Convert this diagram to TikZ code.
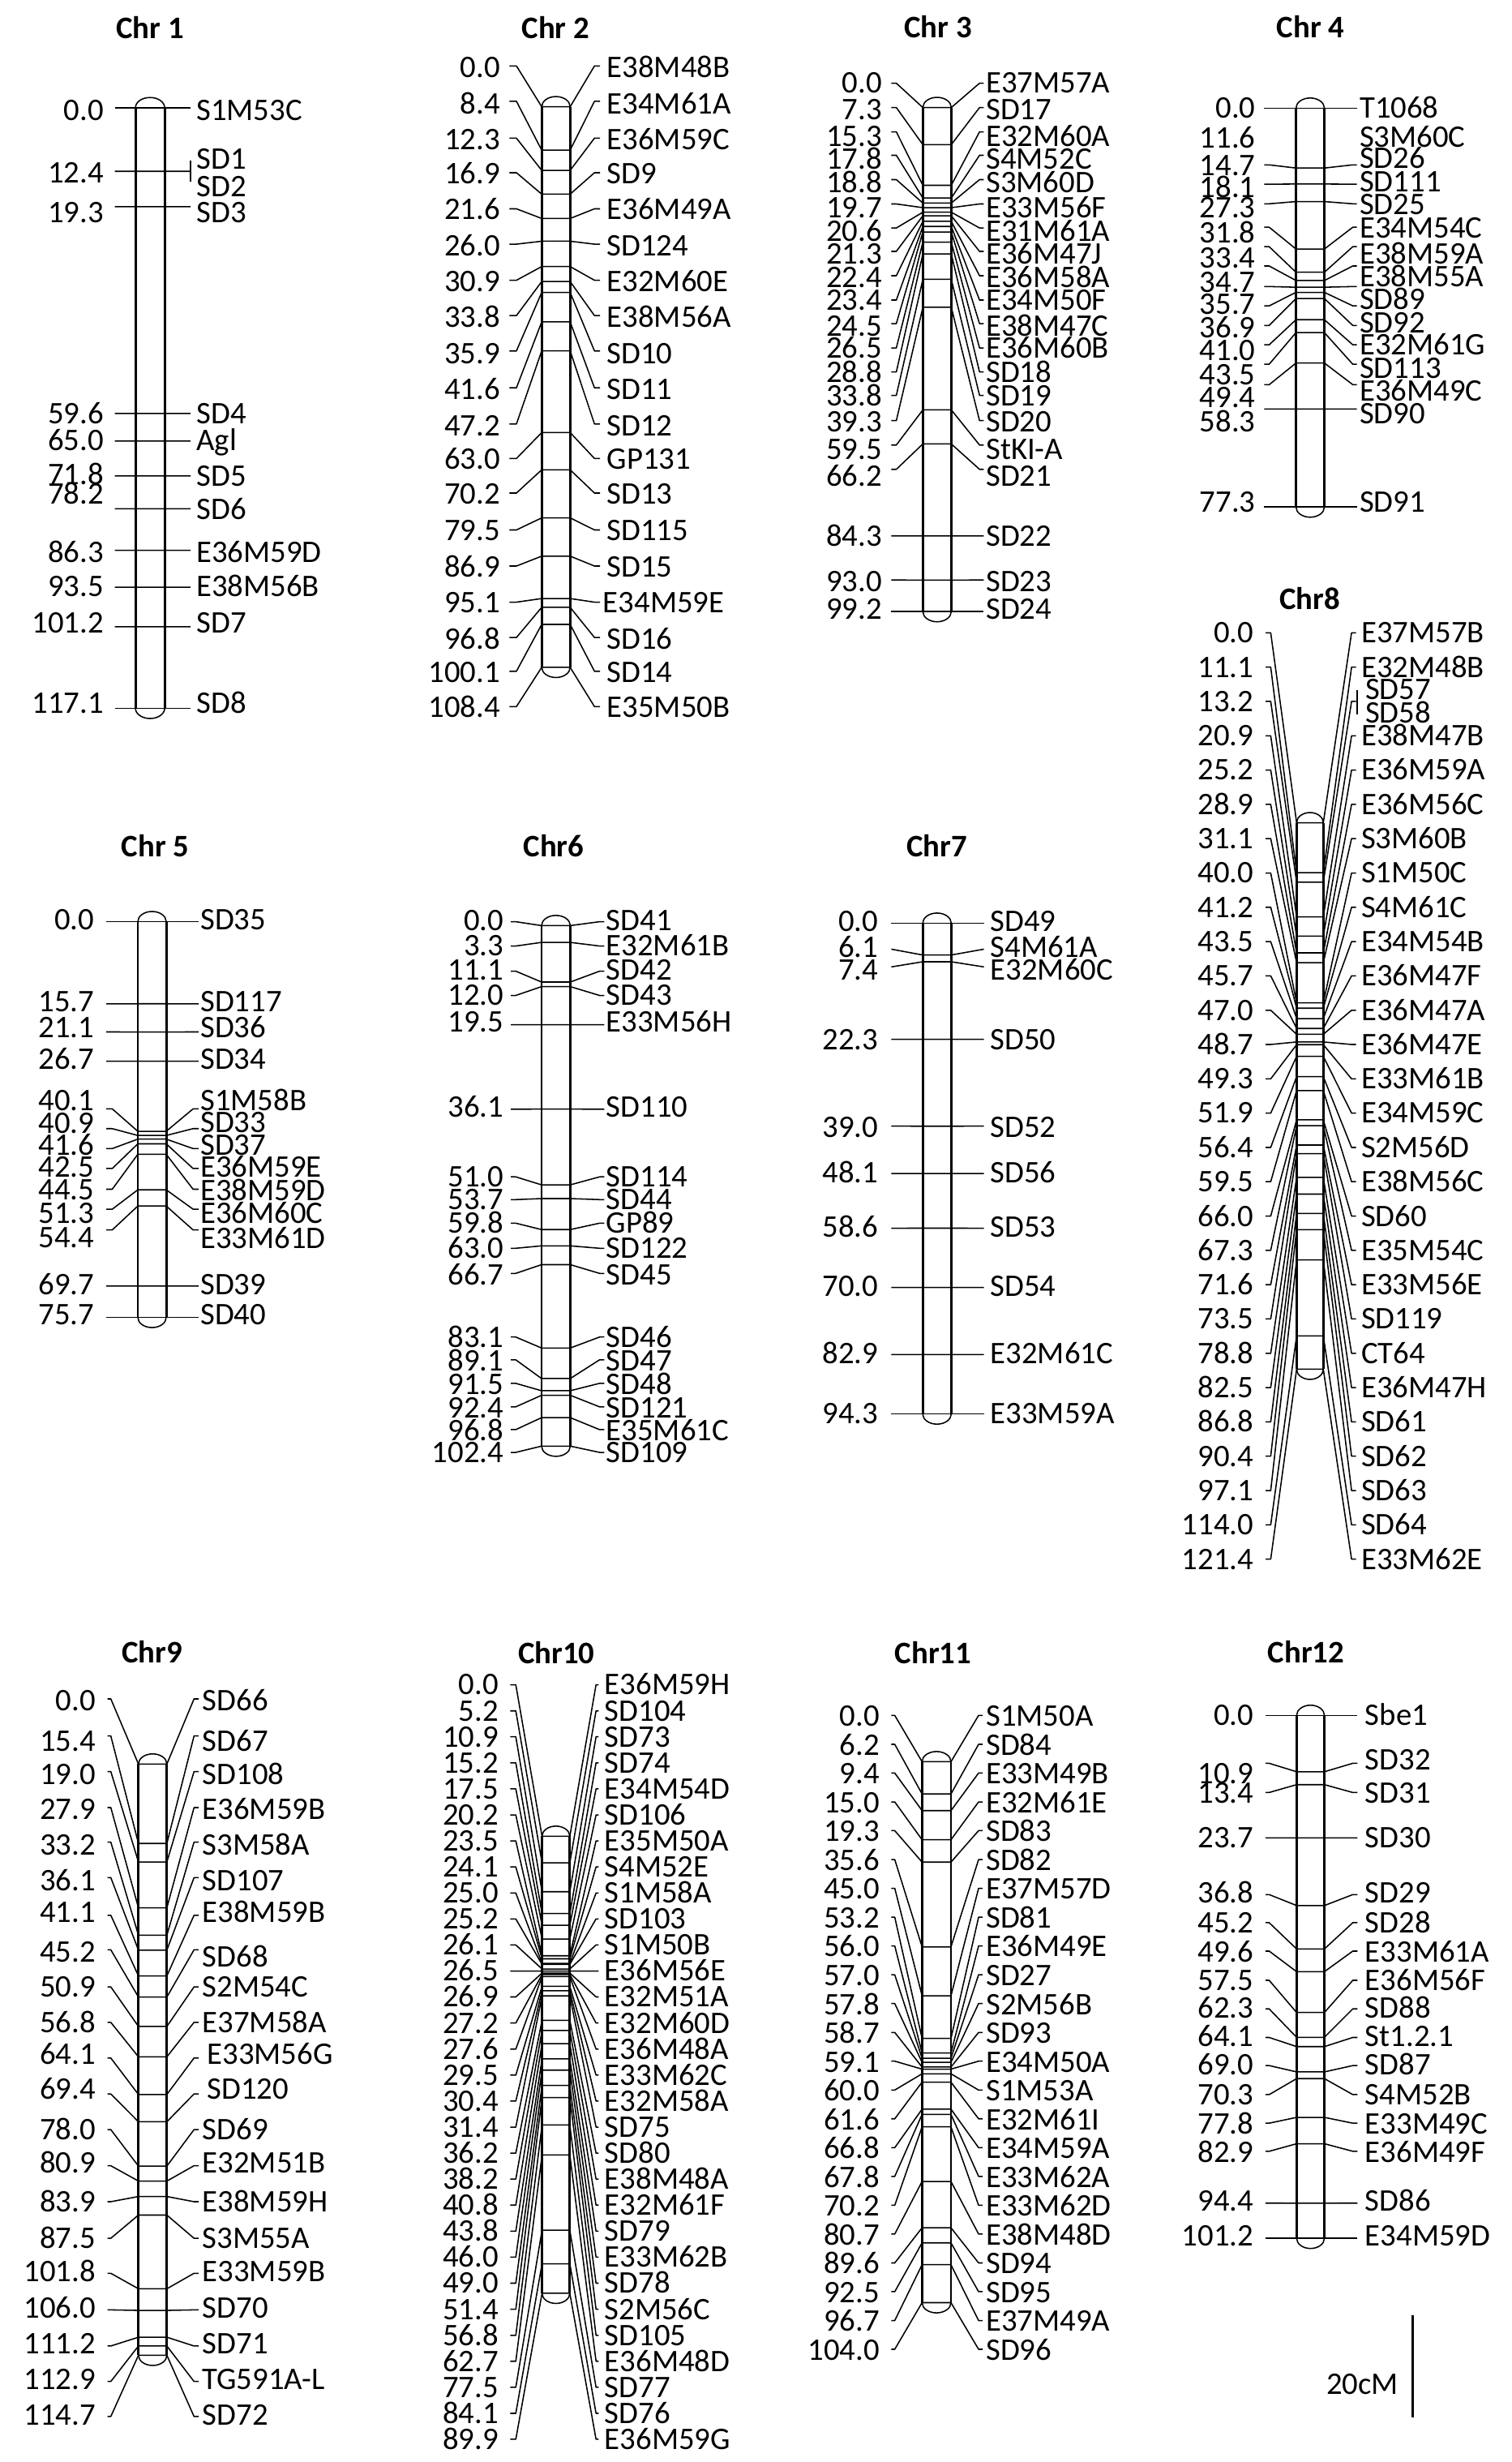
\documentclass[tikz,border=0pt]{standalone}
\usepackage{fontspec}
\setmainfont{Carlito}
\newcommand\lblfont{\fontsize{20}{24}\selectfont}
\tikzset{
 conn/.style={line width=0.8pt, line join=round},
 barside/.style={line width=1.5pt},
 capline/.style={line width=0.8pt},
 numlbl/.style={anchor=base east, inner sep=0pt, font=\lblfont},
 namelbl/.style={anchor=base west, inner sep=0pt, font=\lblfont},
 titlelbl/.style={anchor=base, inner sep=0pt, font=\lblfont\bfseries},
 scalebar/.style={line width=1.6pt},
}
\newcommand\setbar[6]{\def\cid{#1}\def\bL{#2}\def\bR{#3}\def\yA{#4}\def\yB{#5}\def\cmax{#6}}
\newcommand\setlbl[6]{\def\xLs{#1}\def\xLd{#2}\def\xRd{#3}\def\xRs{#4}\def\xN{#5}\def\xM{#6}}
\newcommand\chrprep{%
 \pgfmathsetmacro\bC{(\bL+\bR)/2}%
 \pgfmathsetmacro\bK{0.552*(\bR-\bL)/2}%
 \pgfmathsetmacro\bCl{\bC-\bK}\pgfmathsetmacro\bCr{\bC+\bK}%
 \pgfmathsetmacro\yAt{\yA-6.5}\pgfmathsetmacro\yAc{\yA-3.59}%
 \pgfmathsetmacro\yBt{\yB+6.5}\pgfmathsetmacro\yBc{\yB+3.59}%
 \coordinate (c\cid-tl) at (\bL,\yA);
 \coordinate (c\cid-tr) at (\bR,\yA);
 \coordinate (c\cid-bl) at (\bL,\yB);
 \coordinate (c\cid-br) at (\bR,\yB);
 \fill[white] (c\cid-tl) .. controls (\bL,\yAc) and (\bCl,\yAt) .. (\bC,\yAt) .. controls (\bCr,\yAt) and (\bR,\yAc) .. (c\cid-tr) -- (c\cid-br) .. controls (\bR,\yBc) and (\bCr,\yBt) .. (\bC,\yBt) .. controls (\bCl,\yBt) and (\bL,\yBc) .. (c\cid-bl) -- cycle;
}
\newcommand\chroutline{%
 \draw[capline] (c\cid-tl) .. controls (\bL,\yAc) and (\bCl,\yAt) .. (\bC,\yAt) .. controls (\bCr,\yAt) and (\bR,\yAc) .. (c\cid-tr);
 \draw[capline] (c\cid-br) .. controls (\bR,\yBc) and (\bCr,\yBt) .. (\bC,\yBt) .. controls (\bCl,\yBt) and (\bL,\yBc) .. (c\cid-bl);
 \draw[barside] (c\cid-tl) -- (c\cid-bl);
 \draw[barside] (c\cid-tr) -- (c\cid-br);
}
\newcommand\chrmarkers[1]{%
 \foreach \pc/\pL/\pR [count=\k] in {#1}{%
  \pgfmathsetmacro\yb{\yA+(\pc)/(\cmax)*((\yB)-(\yA))}%
  \coordinate (c\cid-m\k-a) at (\xLs,\pL);
  \coordinate (c\cid-m\k-b) at (\xLd,\pL);
  \coordinate (c\cid-m\k-c) at (\bL,\yb);
  \coordinate (c\cid-m\k-d) at (\bR,\yb);
  \coordinate (c\cid-m\k-e) at (\xRd,\pR);
  \coordinate (c\cid-m\k-f) at (\xRs,\pR);
  \draw[conn] (c\cid-m\k-a) -- (c\cid-m\k-b) -- (c\cid-m\k-c) -- (c\cid-m\k-d) -- (c\cid-m\k-e) -- (c\cid-m\k-f);
 }%
}
\newcommand\chrleft[1]{\foreach \ty/\lab [count=\k] in {#1}{\node[numlbl] (c\cid-n\k) at (\xN,\ty+6.4) {\lab};}}
\newcommand\chrright[1]{\foreach \ty/\dx/\lab [count=\k] in {#1}{\node[namelbl] (c\cid-s\k) at (\xM+\dx,\ty+6.4) {\lab};}}
\begin{document}
\begin{tikzpicture}[x=1pt,y=-1pt]
\useasboundingbox (0,0) rectangle (963,1568);
\fill[white] (0,0) rectangle (963,1568);

% ---------- Chr 1
\begin{scope}
\setbar{1}{86.3}{104.9}{68.6}{451.1}{117.1}
\setlbl{73.2}{73.2}{121.4}{121.4}{66.3}{125}
\chrprep
\chrmarkers{0/68.6/68.6,12.4/109.1/109.1,19.3/131.6/131.6,59.6/263.3/263.3,65.0/280.9/280.9,71.8/303.1/303.1,78.2/324.0/324.0,86.3/350.5/350.5,93.5/374.0/374.0,101.2/399.2/399.2,117.1/451.1/451.1}
\chroutline
\chrleft{70.5/0.0,110/12.4,135.5/19.3,263.5/59.6,280.5/65.0,302/71.8,314.5/78.2,352/86.3,373.5/93.5,396.5/101.2,448/117.1}
\chrright{70.5/0/S1M53C,101.3/0/SD1,118.6/0/SD2,135.5/0/SD3,263.5/0/SD4,280.5/0/Agl,303/0/SD5,324.3/0/SD6,352/0/E36M59D,373.5/0/E38M56B,396.5/0/SD7,448/0/SD8}
\coordinate (c1-tka) at (121.4,102.5);
\coordinate (c1-tkb) at (121.4,115.5);
\draw[conn] (c1-tka) -- (c1-tkb);
\node[titlelbl] (c1-title) at (95.6,24.3) {Chr 1};
\end{scope}

% ---------- Chr 2
\begin{scope}
\setbar{2}{345.1}{363.2}{68}{425}{108.4}
\setlbl{324.5}{329}{378.7}{382.3}{318.8}{386.5}
\chrprep
\chrmarkers{0/42/42,8.4/64.5/64.5,12.3/88/88,16.9/110/110,21.6/133/133,26.0/155.5/155.5,30.9/178.5/178.5,33.8/201/201,35.9/223.5/223.5,41.6/247/247,47.2/270/270,63.0/292/292,70.2/314/314,79.5/337.5/337.5,86.9/360.5/360.5,95.1/383.5/383.5,96.8/406/406,100.1/427.5/427.5,108.4/450/450}
\chroutline
\chrleft{43/0.0,66/8.4,89/12.3,110.5/16.9,133.5/21.6,156.5/26.0,179.5/30.9,202/33.8,225/35.9,248/41.6,271/47.2,292.5/63.0,314.5/70.2,338/79.5,361/86.9,384/95.1,407/96.8,428/100.1,450.5/108.4}
\chrright{43/0/E38M48B,66/0/E34M61A,89/0/E36M59C,110.5/0/SD9,133.5/0/E36M49A,156.5/0/SD124,179.5/0/E32M60E,202/0/E38M56A,225/0/SD10,248/0/SD11,271/0/SD12,292.5/0/GP131,314.5/0/SD13,338/0/SD115,361/0/SD15,384/-2.5/E34M59E,407/0/SD16,428/0/SD14,450.5/0/E35M50B}
\node[titlelbl] (c2-title) at (353.9,24.3) {Chr 2};
\end{scope}

% ---------- Chr 3
\begin{scope}
\setbar{3}{587.9}{606}{68.5}{389.5}{99.2}
\setlbl{567.8}{571}{624}{626.7}{562}{628}
\chrprep
\chrmarkers{0/53/53,7.3/68.5/68.5,15.3/84/84,17.8/98.9/98.9,18.8/114.4/114.4,19.7/129.9/129.9,20.6/145.2/145.2,21.3/160.1/160.1,22.4/175.6/175.6,23.4/191.1/191.1,24.5/206.1/206.1,26.5/221.6/221.6,28.8/236.9/236.9,33.8/251.8/251.8,39.3/267.9/267.9,59.5/283.4/283.4,66.2/298.9/298.9,84.3/341.3/341.3,93.0/369.4/369.4,99.2/389.5/389.5}
\chroutline
\chrleft{52.5/0.0,70/7.3,87/15.3,101.5/17.8,116.5/18.8,132.5/19.7,147/20.6,161.5/21.3,176.5/22.4,191/23.4,207.5/24.5,221.5/26.5,237/28.8,252/33.8,268.5/39.3,286/59.5,303/66.2,341.5/84.3,370.5/93.0,388/99.2}
\chrright{52.5/0/E37M57A,70/0/SD17,87/0/E32M60A,101.5/0/S4M52C,116.5/0/S3M60D,132.5/0/E33M56F,147/0/E31M61A,161.5/0/E36M47J,176.5/0/E36M58A,191/0/E34M50F,207.5/0/E38M47C,221.5/0/E36M60B,237/0/SD18,252/0/SD19,268.5/0/SD20,286/0/StKI-A,303/0/SD21,341.5/0/SD22,370.5/0/SD23,388/0/SD24}
\node[titlelbl] (c3-title) at (597.6,24.1) {Chr 3};
\end{scope}

% ---------- Chr 4
\begin{scope}
\setbar{4}{825.6}{843.7}{68.9}{322.9}{77.3}
\setlbl{805.4}{808.5}{861.8}{864.3}{800}{866}
\chrprep
\chrmarkers{0/68.9/68.9,11.6/105/105,14.7/117.3/117.3,18.1/129.8/129.8,27.3/144.7/144.7,31.8/157.1/157.1,33.4/169.4/169.4,34.7/182.5/182.5,35.7/194.8/194.8,36.9/207.3/207.3,41.0/219.6/219.6,43.5/232/232,49.4/245/245,58.3/260.5/260.5,77.3/322.9/322.9}
\chroutline
\chrleft{68.9/0.0,87.8/11.6,105.5/14.7,119.5/18.1,132.4/27.3,148.5/31.8,164.5/33.4,180/34.7,193.5/35.7,208.5/36.9,223/41.0,238.5/43.5,253/49.4,268.5/58.3,320/77.3}
\chrright{68.9/0/T1068,87.5/0/S3M60C,101/0/SD26,116/0/SD111,130/0/SD25,145.3/0/E34M54C,161.5/0/E38M59A,176/0/E38M55A,190.5/0/SD89,205.5/0/SD92,219.3/0/E32M61G,234.3/0/SD113,249/0/E36M49C,263.5/0/SD90,319.5/0/SD91}
\node[titlelbl] (c4-title) at (834.9,24.2) {Chr 4};
\end{scope}

% ---------- Chr 5
\begin{scope}
\setbar{5}{87.8}{105.9}{587}{839}{75.7}
\setlbl{67.7}{71.5}{123}{126.6}{60.3}{127.5}
\chrprep
\chrmarkers{0/587/587,15.7/639.3/639.3,21.1/657.2/657.2,26.7/675.9/675.9,40.1/706.2/706.2,40.9/718.8/718.8,41.6/731.5/731.5,42.5/744.2/744.2,44.5/757.4/757.4,51.3/770.1/770.1,54.4/783.3/783.3,69.7/819/819,75.7/839/839}
\chroutline
\chrleft{585.5/0.0,638/15.7,654.5/21.1,674.5/26.7,701/40.1,715.5/40.9,729.5/41.6,743.5/42.5,757.5/44.5,772.5/51.3,788/54.4,818/69.7,837/75.7}
\chrright{585.5/0/SD35,638/0/SD117,654.5/0/SD36,674.5/0/SD34,701/0/S1M58B,715/0/SD33,729.5/0/SD37,743.5/0/E36M59E,758/0/E38M59D,772.5/0/E36M60C,788.5/0/E33M61D,818/0/SD39,837/0/SD40}
\node[titlelbl] (c5-title) at (99,545.5) {Chr 5};
\end{scope}

% ---------- Chr 6
\begin{scope}
\setbar{6}{345}{363.3}{589.5}{921}{102.4}
\setlbl{325.5}{328.5}{382}{385}{321}{386}
\chrprep
\chrmarkers{0/587/587,3.3/602.5/602.5,11.1/618.5/618.5,12.0/634/634,19.5/652.6/652.6,36.1/706.4/706.4,51.0/749.5/749.5,53.7/764/764,59.8/779/779,63.0/795/795,66.7/811/811,83.1/851.5/851.5,89.1/866/866,91.5/881/881,92.4/896/896,96.8/910.5/910.5,102.4/925/925}
\chroutline
\chrleft{586/0.0,602/3.3,618/11.1,634/12.0,651/19.5,705/36.1,749.5/51.0,764/53.7,779/59.8,795/63.0,812/66.7,851.5/83.1,866.5/89.1,881.5/91.5,896.5/92.4,911/96.8,925/102.4}
\chrright{586/0/SD41,602/0/E32M61B,618/0/SD42,634/0/SD43,651/0/E33M56H,705/0/SD110,749.5/0/SD114,764/0/SD44,779/0/GP89,795/0/SD122,812/0/SD45,851.5/0/SD46,866.5/0/SD47,881.5/0/SD48,896.5/0/SD121,911/0/E35M61C,925/0/SD109}
\node[titlelbl] (c6-title) at (352.7,545.4) {Chr6};
\end{scope}

% ---------- Chr 7
\begin{scope}
\setbar{7}{587.8}{606}{588}{900.5}{94.3}
\setlbl{567.8}{567.8}{626.8}{626.8}{559.6}{630.8}
\chrprep
\chrmarkers{0/588/588,6.1/604.5/604.5,7.4/615.8/615.8,22.3/661.9/661.9,39.0/717.2/717.2,48.1/747.4/747.4,58.6/782.2/782.2,70.0/820/820,82.9/862.7/862.7,94.3/900.5/900.5}
\chroutline
\chrleft{586.5/0.0,603.3/6.1,618/7.4,662/22.3,718/39.0,747/48.1,781.7/58.6,819/70.0,862/82.9,900/94.3}
\chrright{586.5/0/SD49,603.3/0/S4M61A,618/0/E32M60C,662/0/SD50,718/0/SD52,747/0/SD56,781.7/0/SD53,819/0/SD54,862/0/E32M61C,900/0/E33M59A}
\node[titlelbl] (c7-title) at (596.7,545.5) {Chr7};
\end{scope}

% ---------- Chr 8
\begin{scope}
\setbar{8}{826}{843}{524}{872}{121.4}
\setlbl{806.3}{809.5}{861}{863.8}{798.7}{867}
\chrprep
\chrmarkers{0/403.0/403.0,11.1/424.9/424.9,13.2/446.7/446.7,20.9/468.6/468.6,25.2/490.4/490.4,28.9/512.3/512.3,31.1/534.1/534.1,40.0/556.0/556.0,41.2/577.8/577.8,43.5/599.7/599.7,45.7/621.5/621.5,47.0/643.4/643.4,48.7/665.2/665.2,49.3/687.1/687.1,51.9/708.9/708.9,56.4/730.8/730.8,59.5/752.6/752.6,66.0/774.5/774.5,67.3/796.3/796.3,71.6/818.2/818.2,73.5/840.0/840.0,78.8/861.9/861.9,82.5/883.7/883.7,86.8/905.6/905.6,90.4/927.4/927.4,97.1/949.3/949.3,114.0/971.1/971.1,121.4/993.0/993.0}
\chroutline
\chrleft{403.0/0.0,424.9/11.1,446.7/13.2,468.6/20.9,490.4/25.2,512.3/28.9,534.1/31.1,556.0/40.0,577.8/41.2,599.7/43.5,621.5/45.7,643.4/47.0,665.2/48.7,687.1/49.3,708.9/51.9,730.8/56.4,752.6/59.5,774.5/66.0,796.3/67.3,818.2/71.6,840.0/73.5,861.9/78.8,883.7/82.5,905.6/86.8,927.4/90.4,949.3/97.1,971.1/114.0,993.0/121.4}
\chrright{403.0/0/E37M57B,424.9/0/E32M48B,439/2.6/SD57,454/2.6/SD58,468.6/0/E38M47B,490.4/0/E36M59A,512.3/0/E36M56C,534.1/0/S3M60B,556.0/0/S1M50C,577.8/0/S4M61C,599.7/0/E34M54B,621.5/0/E36M47F,643.4/0/E36M47A,665.2/0/E36M47E,687.1/0/E33M61B,708.9/0/E34M59C,730.8/0/S2M56D,752.6/0/E38M56C,774.5/0/SD60,796.3/0/E35M54C,818.2/0/E33M56E,840.0/0/SD119,861.9/0/CT64,883.7/0/E36M47H,905.6/0/SD61,927.4/0/SD62,949.3/0/SD63,971.1/0/SD64,993.0/0/E33M62E}
\coordinate (c8-tka) at (864.5,439.5);
\coordinate (c8-tkb) at (864.5,455);
\draw[conn] (c8-tka) -- (c8-tkb);
\node[titlelbl] (c8-title) at (834.4,388.1) {Chr8};
\end{scope}

% ---------- Chr 9
\begin{scope}
\setbar{9}{88.2}{106.3}{1123.5}{1500}{114.7}
\setlbl{68.5}{70.6}{123.6}{126.6}{61}{128.8}
\chrprep
\chrmarkers{0/1082/1082,15.4/1105.6/1105.6,19.0/1128.3/1128.3,27.9/1151.2/1151.2,33.2/1173.2/1173.2,36.1/1195.8/1195.8,41.1/1219.8/1219.8,45.2/1241.8/1241.8,50.9/1265.4/1265.4,56.8/1288/1288,64.1/1310.7/1310.7,69.4/1333.6/1333.6,78.0/1356.3/1356.3,80.9/1379.3/1379.3,83.9/1402.2/1402.2,87.5/1425.5/1425.5,101.8/1447.8/1447.8,106.0/1471.1/1471.1,111.2/1494.1/1494.1,112.9/1516.7/1516.7,114.7/1539/1539}
\chroutline
\chrleft{1083/0.0,1109/15.4,1130/19.0,1152.2/27.9,1174.9/33.2,1197.5/36.1,1218.1/41.1,1243/45.2,1265.3/50.9,1288/56.8,1308.2/64.1,1330.5/69.4,1356.3/78.0,1377.5/80.9,1402.2/83.9,1425.5/87.5,1446.8/101.8,1469.8/106.0,1492.5/111.2,1515.1/112.9,1538/114.7}
\chrright{1083/0/SD66,1109/0/SD67,1130/0/SD108,1152.2/0/E36M59B,1174.9/0/S3M58A,1197.5/0/SD107,1218.1/0/E38M59B,1246.5/0/SD68,1265.3/0/S2M54C,1288/0/E37M58A,1308.2/3/E33M56G,1330.5/3/SD120,1356.3/0/SD69,1377.5/0/E32M51B,1402.2/0/E38M59H,1425.5/0/S3M55A,1446.8/0/E33M59B,1469.8/0/SD70,1492.5/0/SD71,1515.1/0/TG591A-L,1538/0/SD72}
\node[titlelbl] (c9-title) at (97,1059.2) {Chr9};
\end{scope}

% ---------- Chr 10
\begin{scope}
\setbar{10}{345.3}{363}{1169.5}{1460.5}{89.9}
\setlbl{325}{328.6}{379.7}{381.4}{317.7}{385}
\chrprep
\chrmarkers{0/1073.0/1073.0,5.2/1089.6/1089.6,10.9/1106.1/1106.1,15.2/1122.7/1122.7,17.5/1139.3/1139.3,20.2/1155.9/1155.9,23.5/1172.4/1172.4,24.1/1189.0/1189.0,25.0/1205.6/1205.6,25.2/1222.1/1222.1,26.1/1238.7/1238.7,26.5/1255.3/1255.3,26.9/1271.8/1271.8,27.2/1288.4/1288.4,27.6/1305.0/1305.0,29.5/1321.6/1321.6,30.4/1338.1/1338.1,31.4/1354.7/1354.7,36.2/1371.3/1371.3,38.2/1387.8/1387.8,40.8/1404.4/1404.4,43.8/1421.0/1421.0,46.0/1437.5/1437.5,49.0/1454.1/1454.1,51.4/1470.7/1470.7,56.8/1487.3/1487.3,62.7/1503.8/1503.8,77.5/1520.4/1520.4,84.1/1537.0/1537.0,89.9/1553.5/1553.5}
\chroutline
\chrleft{1073.0/0.0,1089.6/5.2,1106.1/10.9,1122.7/15.2,1139.3/17.5,1155.9/20.2,1172.4/23.5,1189.0/24.1,1205.6/25.0,1222.1/25.2,1238.7/26.1,1255.3/26.5,1271.8/26.9,1288.4/27.2,1305.0/27.6,1321.6/29.5,1338.1/30.4,1354.7/31.4,1371.3/36.2,1387.8/38.2,1404.4/40.8,1421.0/43.8,1437.5/46.0,1454.1/49.0,1470.7/51.4,1487.3/56.8,1503.8/62.7,1520.4/77.5,1537.0/84.1,1553.5/89.9}
\chrright{1073.0/0/E36M59H,1089.6/0/SD104,1106.1/0/SD73,1122.7/0/SD74,1139.3/0/E34M54D,1155.9/0/SD106,1172.4/0/E35M50A,1189.0/0/S4M52E,1205.6/0/S1M58A,1222.1/0/SD103,1238.7/0/S1M50B,1255.3/0/E36M56E,1271.8/0/E32M51A,1288.4/0/E32M60D,1305.0/0/E36M48A,1321.6/0/E33M62C,1338.1/0/E32M58A,1354.7/0/SD75,1371.3/0/SD80,1387.8/0/E38M48A,1404.4/0/E32M61F,1421.0/0/SD79,1437.5/0/E33M62B,1454.1/0/SD78,1470.7/0/S2M56C,1487.3/0/SD105,1503.8/0/E36M48D,1520.4/0/SD77,1537.0/0/SD76,1553.5/0/E36M59G}
\node[titlelbl] (c10-title) at (354.5,1059.3) {Chr10};
\end{scope}

% ---------- Chr 11
\begin{scope}
\setbar{11}{587.4}{605.8}{1122}{1466.5}{104.0}
\setlbl{567.8}{570}{623.4}{626}{560.5}{628}
\chrprep
\chrmarkers{0/1092.5/1092.5,6.2/1110.9/1110.9,9.4/1129.2/1129.2,15.0/1147.6/1147.6,19.3/1165.9/1165.9,35.6/1184.3/1184.3,45.0/1202.6/1202.6,53.2/1221.0/1221.0,56.0/1239.3/1239.3,57.0/1257.7/1257.7,57.8/1276.0/1276.0,58.7/1294.4/1294.4,59.1/1312.7/1312.7,60.0/1331.1/1331.1,61.6/1349.4/1349.4,66.8/1367.8/1367.8,67.8/1386.1/1386.1,70.2/1404.5/1404.5,80.7/1422.8/1422.8,89.6/1441.2/1441.2,92.5/1459.5/1459.5,96.7/1477.9/1477.9,104.0/1496.2/1496.2}
\chroutline
\chrleft{1093.0/0.0,1111.4/6.2,1129.7/9.4,1148.1/15.0,1166.4/19.3,1184.8/35.6,1203.1/45.0,1221.5/53.2,1239.8/56.0,1258.2/57.0,1276.5/57.8,1294.9/58.7,1313.2/59.1,1331.6/60.0,1349.9/61.6,1368.3/66.8,1386.6/67.8,1405.0/70.2,1423.3/80.7,1441.7/89.6,1460.0/92.5,1478.4/96.7,1496.7/104.0}
\chrright{1093.0/0/S1M50A,1111.4/0/SD84,1129.7/0/E33M49B,1148.1/0/E32M61E,1166.4/0/SD83,1184.8/0/SD82,1203.1/0/E37M57D,1221.5/0/SD81,1239.8/0/E36M49E,1258.2/0/SD27,1276.5/0/S2M56B,1294.9/0/SD93,1313.2/0/E34M50A,1331.6/0/S1M53A,1349.9/0/E32M61I,1368.3/0/E34M59A,1386.6/0/E33M62A,1405.0/0/E33M62D,1423.3/0/E38M48D,1441.7/0/SD94,1460.0/0/SD95,1478.4/0/E37M49A,1496.7/0/SD96}
\node[titlelbl] (c11-title) at (594.5,1059.7) {Chr11};
\end{scope}

% ---------- Chr 12
\begin{scope}
\setbar{12}{826}{843.7}{1092.5}{1425.5}{101.2}
\setlbl{806.3}{808.5}{861.8}{864.8}{798.7}{869.5}
\chrprep
\chrmarkers{0/1092.5/1092.5,10.9/1123/1123,13.4/1141.6/1141.6,23.7/1170.5/1170.5,36.8/1206.6/1206.6,45.2/1224.5/1224.5,49.6/1242.6/1242.6,57.5/1261.2/1261.2,62.3/1279.4/1279.4,64.1/1297.6/1297.6,69.0/1315.5/1315.5,70.3/1334/1334,77.8/1352.2/1352.2,82.9/1370.1/1370.1,94.4/1403.1/1403.1,101.2/1425.5/1425.5}
\chroutline
\chrleft{1092.5/0.0,1129.5/10.9,1142/13.4,1170.5/23.7,1205.5/36.8,1224.5/45.2,1243/49.6,1261/57.5,1279/62.3,1297/64.1,1315/69.0,1334/70.3,1352.5/77.8,1370.5/82.9,1401.5/94.4,1424/101.2}
\chrright{1092.5/0/Sbe1,1121/0/SD32,1142/0/SD31,1170.5/0/SD30,1205.5/0/SD29,1224.5/0/SD28,1243/0/E33M61A,1261/0/E36M56F,1279/0/SD88,1297/0/St1.2.1,1315/0/SD87,1334/0/S4M52B,1352.5/0/E33M49C,1370.5/0/E36M49F,1401.5/0/SD86,1424/0/E34M59D}
\node[titlelbl] (c12-title) at (832,1059.2) {Chr12};
\end{scope}

% ---------- scale bar
\coordinate (sbtop) at (900,1474.6);
\coordinate (sbbot) at (900,1539.7);
\draw[scalebar] (sbtop) -- (sbbot);
\node[numlbl] (sblabel) at (891,1524.6) {20cM};
\end{tikzpicture}
\end{document}
